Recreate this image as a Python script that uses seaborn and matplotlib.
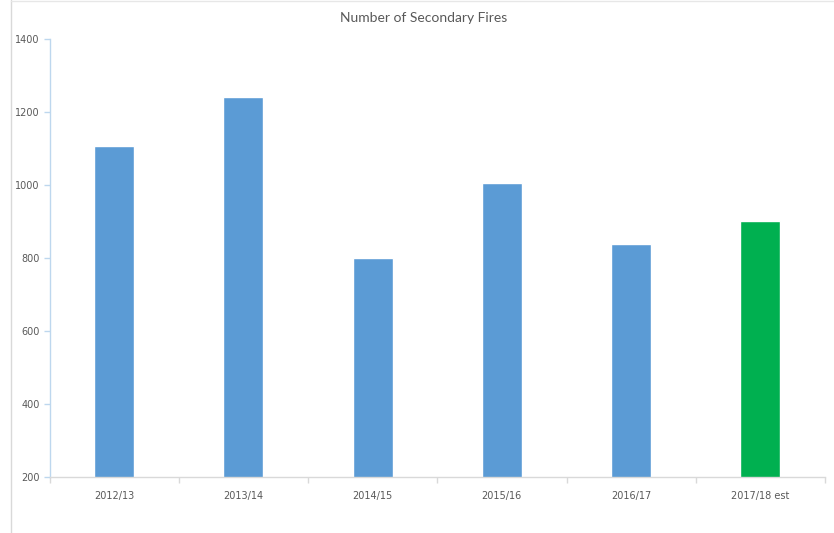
import matplotlib
matplotlib.use("Agg")
import matplotlib.pyplot as plt
from matplotlib.lines import Line2D
import seaborn as sns
import pandas as pd
import numpy as np

categories = ["2012/13", "2013/14", "2014/15", "2015/16", "2016/17", "2017/18 est"]
fires = [1108, 1242, 800, 1006, 838, 903]
bar_colors = ["#5B9BD5", "#5B9BD5", "#5B9BD5", "#5B9BD5", "#5B9BD5", "#00B050"]
y_ticks = [200, 400, 600, 800, 1000, 1200, 1400]
title = "Number of Secondary Fires"

df = pd.DataFrame({"year": categories, "fires": fires})

sns.set_theme(style="white")
plt.rcParams["font.family"] = ["Lato", "DejaVu Sans"]

fig = plt.figure(figsize=(8.34, 5.33), dpi=100)
ax = fig.add_axes([49.5 / 834, 1 - 477.3 / 533, (825 - 49.5) / 834, (477.3 - 39) / 533])

sns.barplot(data=df, x="year", y="fires", hue="year", palette=bar_colors,
            width=0.31, legend=False, ax=ax, saturation=1, bottom=0)

ax.set_ylim(200, 1400)
ax.set_xlim(-0.5, len(categories) - 0.5)
ax.set_yticks(y_ticks)
ax.set_yticklabels([str(v) for v in y_ticks])
ax.set_xlabel("")
ax.set_ylabel("")

for s in ["top", "right"]:
    ax.spines[s].set_visible(False)
ax.spines["left"].set_color("#BDD7EE")
ax.spines["left"].set_linewidth(1.0)
ax.spines["bottom"].set_color("#D9D9D9")
ax.spines["bottom"].set_linewidth(1.0)

ax.tick_params(axis="y", which="major", length=4, width=1, color="#BDD7EE",
               labelsize=7, labelcolor="#595959", pad=3, left=True, direction="out")
ax.tick_params(axis="x", which="major", length=0, labelsize=7,
               labelcolor="#595959", pad=10)
ax.set_xticks(np.arange(-0.5, len(categories) + 0.5, 1.0), minor=True)
ax.tick_params(axis="x", which="minor", length=4, width=1, color="#D9D9D9",
               bottom=True, direction="out")
for lab in ax.get_xticklabels() + ax.get_yticklabels():
    lab.set_family(["Liberation Sans Narrow", "DejaVu Sans"])

fig.text(424 / 834, 1 - 18 / 533, title, ha="center", va="center",
         fontsize=10, color="#595959")

# light frame at left and top edges
fig.add_artist(Line2D([11 / 834, 11 / 834], [0, 1], transform=fig.transFigure,
                      color="#D9D9D9", lw=1))
fig.add_artist(Line2D([11 / 834, 1], [1 - 1 / 533, 1 - 1 / 533],
                      transform=fig.transFigure, color="#E7E7E7", lw=1))

fig.savefig("out.png", dpi=100)
